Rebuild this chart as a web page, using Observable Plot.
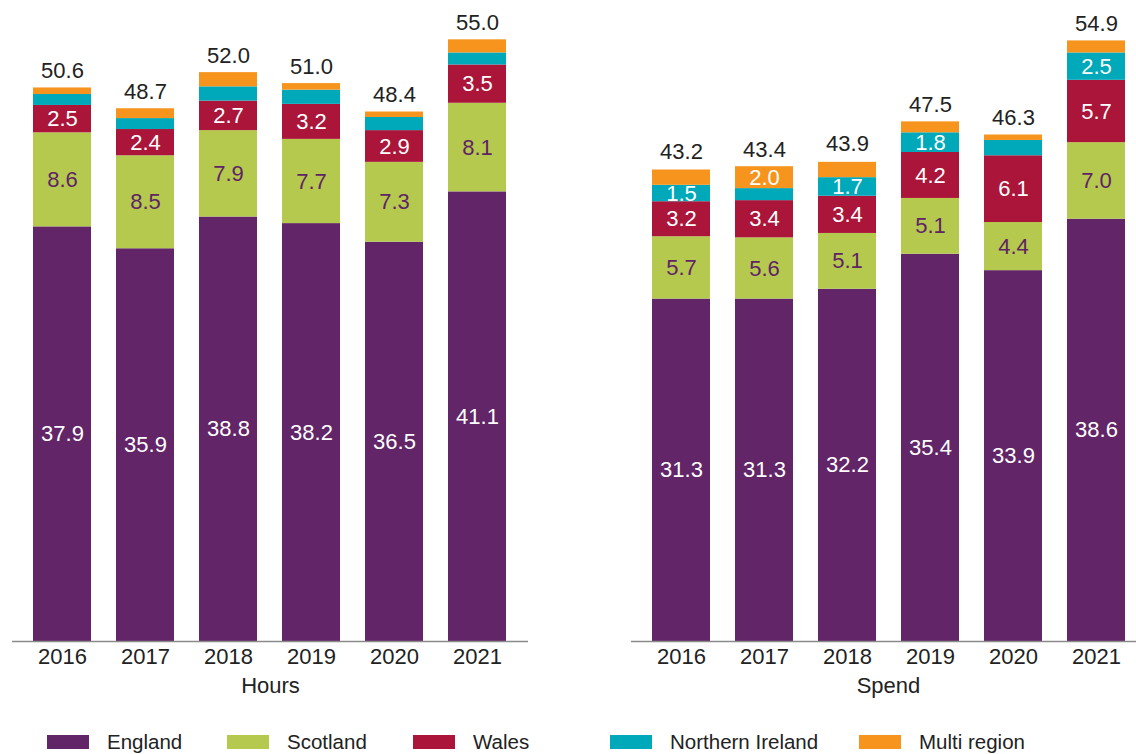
<!DOCTYPE html>
<html>
<head>
<meta charset="utf-8">
<script src="https://cdn.jsdelivr.net/npm/d3@7"></script>
<script src="https://cdn.jsdelivr.net/npm/@observablehq/plot@0.6"></script>
<style>
  html, body { margin: 0; padding: 0; background: #fff; }
  body { width: 1136px; height: 754px; overflow: hidden; font-family: "Liberation Sans", Arial, sans-serif; }
  #charts { display: flex; width: 1136px; height: 700px; }
  #legend { position: relative; width: 1136px; height: 54px; }
  .item { position: absolute; top: 35px; display: flex; align-items: center; height: 14px; font-size: 20.5px; color: #222; white-space: nowrap; }
  .sw { width: 42px; height: 14px; margin-right: 18px; }
</style>
</head>
<body>
<div id="charts"></div>
<div id="legend"></div>
<script>
// ---- data ----
const years = ["2016", "2017", "2018", "2019", "2020", "2021"];
const regions = ["England", "Scotland", "Wales", "Northern Ireland", "Multi region"];
const colors = ["#622567", "#b5c94e", "#ab1539", "#00a9b9", "#f7941d"];

const hoursEngland = [37.9, 35.9, 38.8, 38.2, 36.5, 41.1];
const hoursScotland = [8.6, 8.5, 7.9, 7.7, 7.3, 8.1];
const hoursWales = [2.5, 2.4, 2.7, 3.2, 2.9, 3.5];
const hoursNI = [1.0, 1.0, 1.3, 1.3, 1.2, 1.1];
const hoursMulti = [0.6, 0.9, 1.3, 0.6, 0.5, 1.2];
const hoursTotal = [50.6, 48.7, 52.0, 51.0, 48.4, 55.0];

const spendEngland = [31.3, 31.3, 32.2, 35.4, 33.9, 38.6];
const spendScotland = [5.7, 5.6, 5.1, 5.1, 4.4, 7.0];
const spendWales = [3.2, 3.4, 3.4, 4.2, 6.1, 5.7];
const spendNI = [1.5, 1.1, 1.7, 1.8, 1.4, 2.5];
const spendMulti = [1.4, 2.0, 1.4, 1.0, 0.5, 1.1];
const spendTotal = [43.2, 43.4, 43.9, 47.5, 46.3, 54.9];

// ---- chart ----
const fontFamily = "'Liberation Sans', Arial, sans-serif";

function makeChart(title, series, totals, layout) {
  const rows = [];
  years.forEach((yr, i) => {
    series.forEach((arr, k) => rows.push({year: yr, region: regions[k], value: arr[i]}));
  });
  const totalRows = years.map((yr, i) => ({year: yr, total: totals[i]}));
  return Plot.plot({
    width: 568,
    height: 700,
    marginTop: 6.5,
    marginBottom: 59,
    marginLeft: layout.ml,
    marginRight: layout.mr,
    style: {fontFamily, fontSize: "22px", color: "#222", background: "white"},
    x: {domain: years, range: layout.range, paddingInner: 0.3, paddingOuter: 0.15},
    y: {domain: [0, 58], axis: null},
    color: {domain: regions, range: colors},
    marks: [
      Plot.barY(rows, {x: "year", y: "value", fill: "region", order: regions}),
      Plot.text(rows, Plot.stackY({
        x: "year", y: "value", z: "region", order: regions,
        text: d => (d.region !== "Scotland" && d.value >= 1.5) ? d.value.toFixed(1) : "",
        fill: "white"
      })),
      Plot.text(rows, Plot.stackY({
        x: "year", y: "value", z: "region", order: regions,
        text: d => d.region === "Scotland" ? d.value.toFixed(1) : "",
        fill: "#5f2466"
      })),
      Plot.text(totalRows, {x: "year", y: "total", text: d => d.total.toFixed(1), dy: -17, fill: "#222"}),
      Plot.ruleY([0], {stroke: "#8a8a8a", strokeWidth: 1.3}),
      Plot.axisX({tickSize: 0, tickPadding: 7, label: null, fill: "#222"}),
      Plot.text([title], {frameAnchor: "bottom", lineAnchor: "top", dy: 36, dx: layout.dx, fill: "#222"})
    ]
  });
}

const charts = document.getElementById("charts");
charts.append(makeChart("Hours",
  [hoursEngland, hoursScotland, hoursWales, hoursNI, hoursMulti], hoursTotal,
  {ml: 12, mr: 40, range: [20.5, 518.5], dx: 0}));
charts.append(makeChart("Spend",
  [spendEngland, spendScotland, spendWales, spendNI, spendMulti], spendTotal,
  {ml: 63, mr: 0, range: [71.5, 569.5], dx: 4.5}));

// ---- legend ----
const legendLeft = [47, 227, 413, 610, 859];
const legend = document.getElementById("legend");
regions.forEach((r, i) => {
  const item = document.createElement("div");
  item.className = "item";
  item.style.left = legendLeft[i] + "px";
  const sw = document.createElement("div");
  sw.className = "sw";
  sw.style.background = colors[i];
  const label = document.createElement("span");
  label.textContent = r;
  item.append(sw, label);
  legend.append(item);
});
</script>
</body>
</html>
